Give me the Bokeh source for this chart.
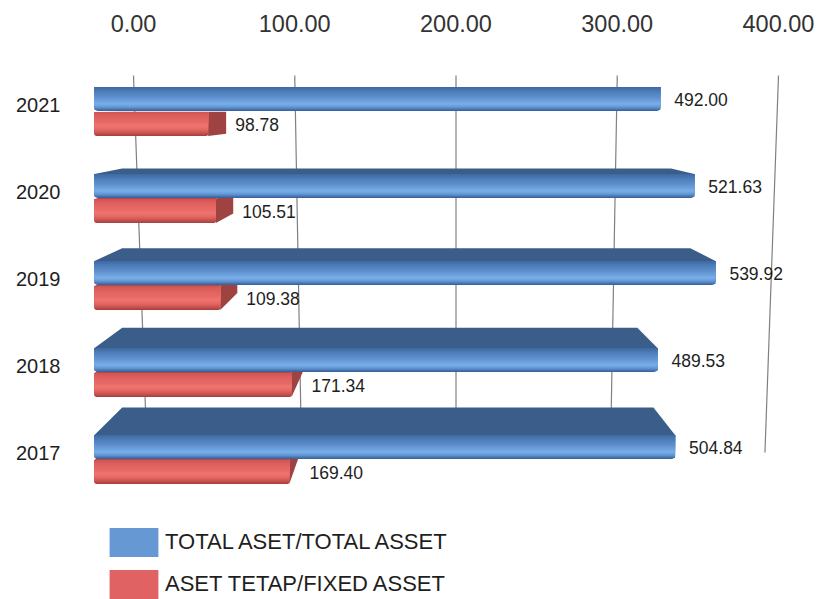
from bokeh.plotting import figure
from bokeh.models import (Range1d, LinearAxis, FixedTicker, NumeralTickFormatter,
                          ColumnDataSource, Legend, LegendItem)
from bokeh.core.properties import value
from bokeh.embed import file_html
from bokeh.resources import INLINE

# ---------------- data ----------------
years = ["2017", "2018", "2019", "2020", "2021"]
total_asset = [504.84, 489.53, 539.92, 521.63, 492.00]
fixed_asset = [169.40, 171.34, 109.38, 105.51, 98.78]
axis_ticks = [0, 100, 200, 300, 400]
series_names = ["TOTAL ASET/TOTAL ASSET", "ASET TETAP/FIXED ASSET"]

# ---------------- layout / style constants ----------------
W, H = 830, 599
FL, FT = 70, 60            # frame left / top (px)
PXX = 1.15                 # px per unit on the front plane
ZERO_PX = 94               # px of value 0 on the front plane
BACK_ZERO_PX = 133         # px of value 0 on the back wall
BACK_PXX = 1.6125          # px per unit on the back wall
PXY = 87                   # px per row
ROW0_PX = 452.5            # px of the first row label
FONT = "Liberation Sans"

x_start = -(ZERO_PX - FL) / PXX
x_end = x_start + (W - FL) / PXX
bx_start = -(BACK_ZERO_PX - FL) / BACK_PXX
bx_end = bx_start + (W - FL) / BACK_PXX
y_start = (ROW0_PX - H) / PXY
y_end = (ROW0_PX - FT) / PXY

# perspective (vanishing point and depth factor)
VX = (420 - ZERO_PX) / PXX
VY = (ROW0_PX - 110) / PXY
T = 0.085

BAR_H = 24 / PXY
GAP = 1 / PXY
SPLIT = 6 / PXY

# colour profiles, top -> bottom
blue_keys = ["#3f6aa3", "#4a79b5", "#5585c2", "#5e90cd", "#6c9fdc", "#78afe9", "#6096d3", "#3a649d"]
red_keys = ["#d25553", "#dd5f5d", "#e36562", "#e76965", "#ee7470", "#e86a66", "#d05855", "#a94240"]


def hex2rgb(h):
    h = h.lstrip("#")
    return [int(h[i:i + 2], 16) for i in (0, 2, 4)]


def smooth(keys, n):
    rgb = [hex2rgb(k) for k in keys]
    out = []
    for i in range(n):
        f = i / (n - 1) * (len(rgb) - 1)
        a = min(int(f), len(rgb) - 2)
        u = f - a
        c = [round(rgb[a][ch] * (1 - u) + rgb[a + 1][ch] * u) for ch in range(3)]
        out.append("#%02x%02x%02x" % tuple(c))
    return out


NS = 24
blue_profile = smooth(blue_keys, NS)
red_profile = smooth(red_keys, NS)

p = figure(width=W, height=H, output_backend="svg", toolbar_location=None,
           x_range=Range1d(x_start, x_end), y_range=Range1d(y_start, y_end),
           x_axis_location=None, y_axis_location=None,
           min_border_left=FL, min_border_top=FT, min_border_right=0, min_border_bottom=0)
p.extra_x_ranges = {"back": Range1d(bx_start, bx_end)}
p.outline_line_color = None
p.xgrid.visible = False
p.ygrid.visible = False
p.background_fill_color = "white"
p.border_fill_color = "white"

# ---------------- back wall grid lines ----------------
mid_tick = sum(axis_ticks) / len(axis_ticks)
gy0 = (ROW0_PX - 75) / PXY
gy1 = (ROW0_PX - 452) / PXY
p.segment(x0=axis_ticks, y0=[gy0] * len(axis_ticks),
          x1=[t + 0.042 * (mid_tick - t) for t in axis_ticks], y1=[gy1] * len(axis_ticks),
          x_range_name="back", line_color="#808080", line_width=1.2)

# ---------------- geometry ----------------
rows = list(range(len(years)))
blue_bot = [k - SPLIT for k in rows]
blue_top = [b + BAR_H for b in blue_bot]
red_top = [k - SPLIT - GAP for k in rows]
red_bot = [t - BAR_H for t in red_top]


def back(x, y):
    return x + T * (VX - x), y + T * (VY - y)


def gradient_bar(values, bots, tops, profile, radius):
    n = len(profile)
    # bottom-up: each layer reaches the top, later layers cover upper parts
    for j, col in enumerate(reversed(profile)):
        p.quad(left=[0] * len(values), right=values,
               bottom=[b + j * (t - b) / n for b, t in zip(bots, tops)],
               top=tops, fill_color=col, line_color=None,
               border_radius=radius if j == 0 else 0)


# ---------------- red bars (fixed asset) ----------------
rt_xs, rt_ys, rs_xs, rs_ys = [], [], [], []
red_label_x = []
for v, b, t in zip(fixed_asset, red_bot, red_top):
    x0b, ytb = back(0, t)
    xvb, _ = back(v, t)
    if t < VY:
        rt_xs.append([0, v, xvb, x0b]); rt_ys.append([t, t, ytb, ytb])
    if v < VX:
        xb, yb_t = back(v, t)
        _, yb_b = back(v, b)
        rs_xs.append([v, v, xb, xb]); rs_ys.append([b, t, yb_t, yb_b])
        red_label_x.append(xb + 9 / PXX)
    else:
        red_label_x.append(v + 9 / PXX)

p.patches(xs=rt_xs, ys=rt_ys, fill_color="#b04a48", line_color=None)
p.patches(xs=rs_xs, ys=rs_ys, fill_color="#9e4341", line_color=None)
gradient_bar(fixed_asset, red_bot, red_top, red_profile, 2)

# ---------------- blue bars (total asset) ----------------
bt_xs, bt_ys = [], []
for v, t in zip(total_asset, blue_top):
    if t < VY:
        x0b, ytb = back(0, t)
        xvb, _ = back(v, t)
        bt_xs.append([0, v, xvb, x0b]); bt_ys.append([t, t, ytb, ytb])
p.patches(xs=bt_xs, ys=bt_ys, fill_color="#3a5d8a", line_color=None)
gradient_bar(total_asset, blue_bot, blue_top, blue_profile, 4)

# ---------------- data labels ----------------
lab_src = ColumnDataSource(dict(
    x=[v + 14 / PXX for v in total_asset] + red_label_x,
    y=[(b + t) / 2 for b, t in zip(blue_bot, blue_top)] + [(b + t) / 2 for b, t in zip(red_bot, red_top)],
    text=[f"{v:.2f}" for v in total_asset] + [f"{v:.2f}" for v in fixed_asset],
))
p.text(x="x", y="y", text="text", source=lab_src, text_font=value(FONT),
       text_font_size="17.5px", text_baseline="middle", text_align="left", text_color="#1e1e1e")

# ---------------- axes ----------------
top_axis = LinearAxis(x_range_name="back", ticker=FixedTicker(ticks=axis_ticks),
                      formatter=NumeralTickFormatter(format="0.00"))
top_axis.axis_line_color = None
top_axis.major_tick_line_color = None
top_axis.minor_tick_line_color = None
top_axis.major_tick_out = 0
top_axis.major_tick_in = 0
top_axis.major_label_standoff = 29
top_axis.major_label_text_font = FONT
top_axis.major_label_text_font_size = "23.5px"
top_axis.major_label_text_color = "#333333"
p.add_layout(top_axis, "above")

left_axis = LinearAxis(ticker=FixedTicker(ticks=rows),
                       major_label_overrides={k: y for k, y in zip(rows, years)})
left_axis.axis_line_color = None
left_axis.major_tick_line_color = None
left_axis.minor_tick_line_color = None
left_axis.major_tick_out = 0
left_axis.major_tick_in = 0
left_axis.major_label_standoff = 10
left_axis.major_label_text_font = FONT
left_axis.major_label_text_font_size = "20px"
left_axis.major_label_text_color = "#1e1e1e"
p.add_layout(left_axis, "left")

# ---------------- legend ----------------
far = y_start - 10  # legend-only renderers, placed outside the visible range
leg_blue = p.quad(left=[0], right=[1], top=[far], bottom=[far - 1], fill_color="#6699d4", line_color=None)
leg_red = p.quad(left=[0], right=[1], top=[far], bottom=[far - 1], fill_color="#e06262", line_color=None)
legend = Legend(items=[LegendItem(label=series_names[0], renderers=[leg_blue]),
                       LegendItem(label=series_names[1], renderers=[leg_red])],
                location=(33, -3), orientation="vertical",
                glyph_width=61, glyph_height=36, label_height=36, label_standoff=1,
                spacing=6, padding=0, margin=0,
                border_line_color=None, background_fill_alpha=0,
                label_text_font=FONT, label_text_font_size="22px", label_text_color="#1e1e1e")
p.add_layout(legend, "center")

open("out.html", "w").write(file_html(p, INLINE))
